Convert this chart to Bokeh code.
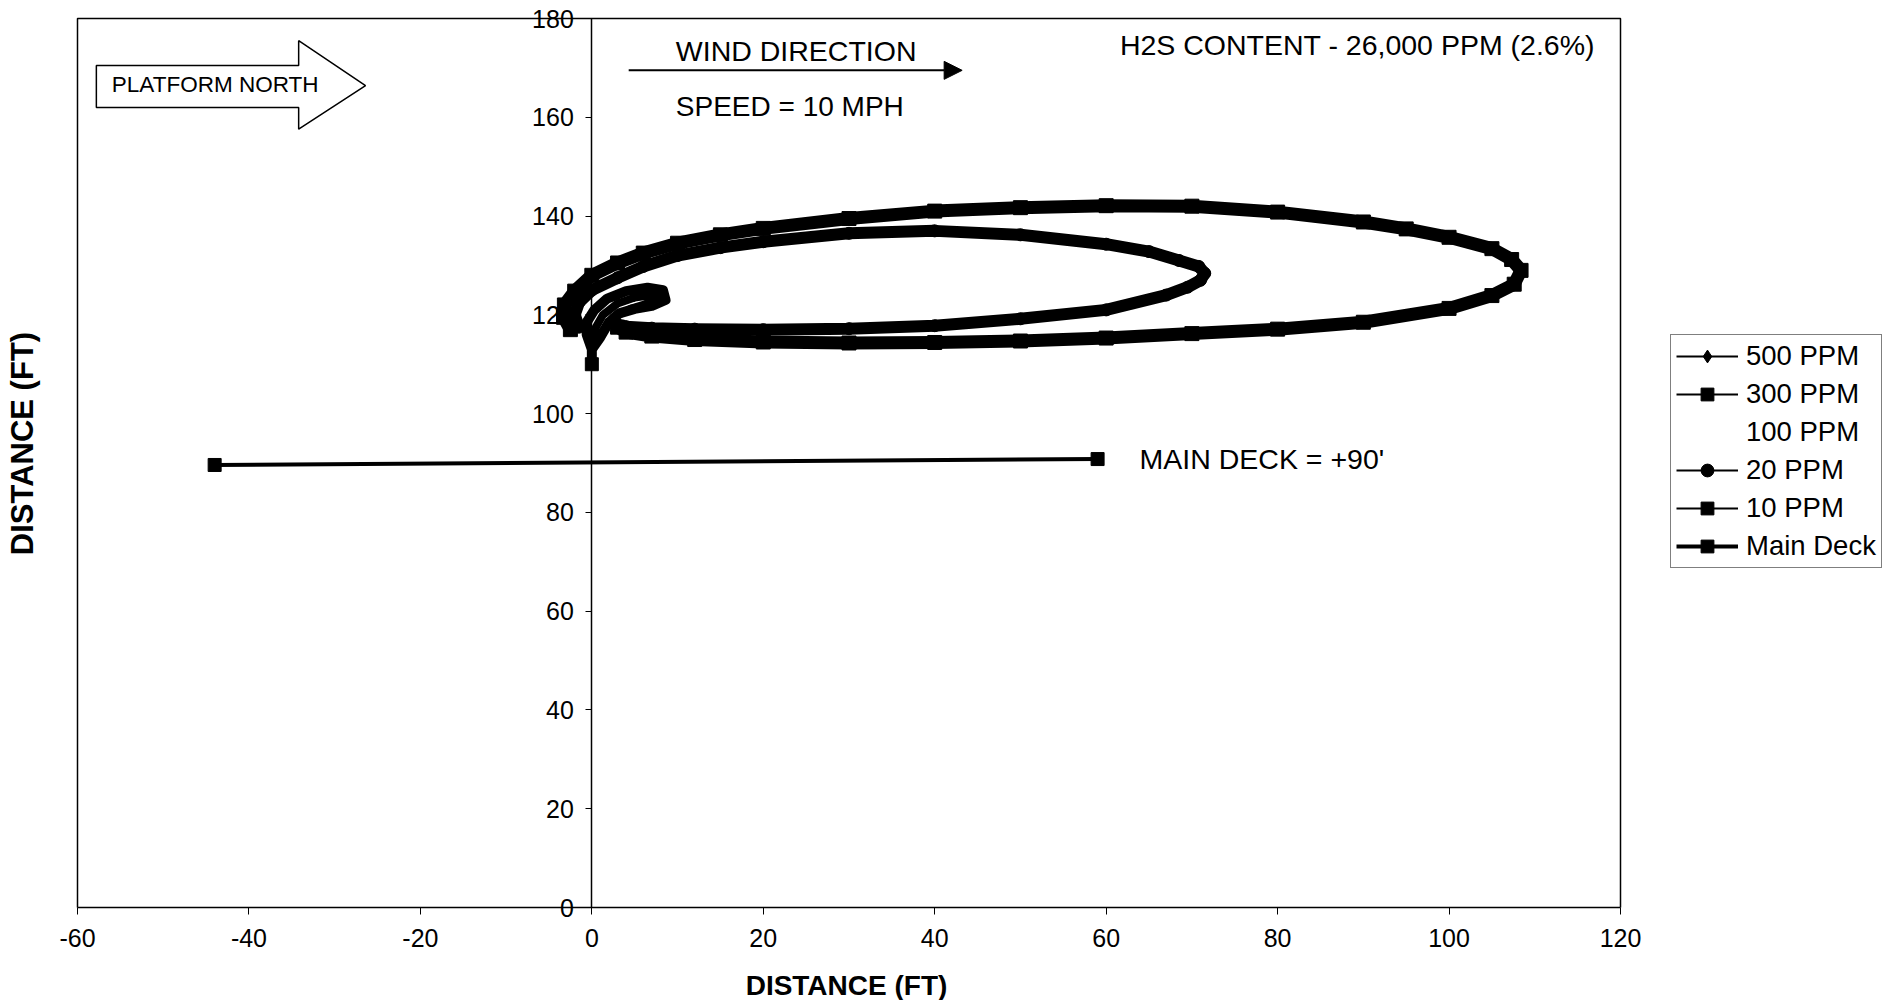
import math
from bokeh.plotting import figure
from bokeh.models import (FixedTicker, Legend, LegendItem, Label,
                          Arrow, NormalHead, Range1d)
from bokeh.embed import file_html
from bokeh.resources import INLINE

# ---------------- data ----------------
x_ticks = [-60, -40, -20, 0, 20, 40, 60, 80, 100, 120]
y_ticks = [0, 20, 40, 60, 80, 100, 120, 140, 160, 180]

# 10 PPM contour (large plume outline)
ppm10_x = [-2.5, -3.3, -3.2, -2.0, 0, 3, 6, 10, 15, 20, 30, 40, 50, 60, 70, 80, 90, 95,
           100, 105, 107.3, 108.4, 107.6, 105, 100, 90, 80, 70, 60, 50, 40, 30, 20, 12, 7, 4, 3]
ppm10_y = [117.0, 119.5, 122.0, 124.8, 128.0, 130.5, 132.5, 134.5, 136.2, 137.5, 139.5, 141.0,
           141.7, 142.1, 142.0, 140.8, 138.8, 137.4, 135.7, 133.4, 131.2, 129.0, 126.2, 123.9,
           121.3, 118.5, 117.1, 116.2, 115.3, 114.7, 114.4, 114.3, 114.5, 115.0, 115.7, 116.5, 117.5]

# 20 PPM contour
ppm20_x = [-1.5, -2.0, -1.5, 0, 3, 6, 10, 15, 20, 30, 40, 50, 60, 65, 68.5, 70.8, 71.5, 71.0,
           69.5, 67, 60, 50, 40, 30, 20, 12, 7, 4, 3]
ppm20_y = [117.5, 120.0, 122.5, 125.0, 127.5, 129.8, 132.0, 133.6, 134.8, 136.5, 137.0, 136.2,
           134.3, 132.8, 131.0, 129.8, 128.4, 127.0, 125.6, 124.0, 121.0, 119.2, 117.8, 117.2,
           117.0, 117.1, 117.3, 117.6, 118.0]

# 300 PPM contour (small tear-drop near the source)
ppm300_x = [0, 0, -0.6, -0.6, 0.3, 1.8, 4.0, 6.5, 8.3, 8.6, 7.0, 5.0, 3.2, 2.0, 1.0, 0]
ppm300_y = [110.0, 113.0, 116.0, 118.5, 121.0, 123.3, 124.8, 125.5, 125.0, 123.0, 121.8,
            121.2, 120.3, 118.5, 115.5, 113.0]

# 500 PPM contour
ppm500_x = [0, 0.3, 1.3, 3.0, 5.0, 7.0, 8.0, 6.5, 4.5, 2.5, 1.2, 0]
ppm500_y = [113.0, 117.0, 120.0, 122.3, 123.5, 124.0, 123.3, 122.3, 121.2, 119.5, 116.5, 113.0]

# Main deck line
deck_x = [-44, 59]
deck_y = [89.6, 90.8]

legend_labels = ["500 PPM", "300 PPM", "100 PPM", "20 PPM", "10 PPM", "Main Deck"]

FONT = "Liberation Sans"

# ---------------- layout (pixels) ----------------
W, H = 1885, 1000
BOX_L, BOX_R, BOX_T, BOX_B = 77, 1620, 18, 907          # plot box in canvas pixels
x_lo, x_hi = x_ticks[0], x_ticks[-1]
y_lo, y_hi = y_ticks[0], y_ticks[-1]
sx = (BOX_R - BOX_L) / (x_hi - x_lo)
sy = (BOX_B - BOX_T) / (y_hi - y_lo)
x_range = Range1d(x_lo - BOX_L / sx, x_hi + (W - BOX_R) / sx)
y_range = Range1d(y_lo - (H - BOX_B) / sy, y_hi + BOX_T / sy)


def px_x(px):
    return x_lo + (px - BOX_L) / sx


def px_y(py):
    return y_lo + (BOX_B - py) / sy


p = figure(width=W, height=H, x_range=x_range, y_range=y_range,
           output_backend="svg", toolbar_location=None, min_border=0)
p.grid.visible = False
p.outline_line_color = None
p.background_fill_color = "white"
p.border_fill_color = "white"

# x axis along y = 0
xa = p.xaxis[0]
xa.fixed_location = 0
xa.bounds = (x_lo, x_hi)
xa.ticker = FixedTicker(ticks=x_ticks)
xa.major_label_overrides = {t: str(t) for t in x_ticks}
xa.major_label_text_font = FONT
xa.major_label_text_font_size = "25px"
xa.major_label_text_color = "black"
xa.major_label_standoff = 14
xa.major_tick_in = 0
xa.major_tick_out = 7
xa.minor_tick_line_color = None
xa.axis_line_width = 1.5
xa.axis_line_color = "black"
xa.level = "underlay"

# y axis along x = 0
ya = p.yaxis[0]
ya.fixed_location = 0
ya.bounds = (y_lo, y_hi)
ya.ticker = FixedTicker(ticks=y_ticks)
ya.major_label_overrides = {t: str(t) for t in y_ticks}
ya.major_label_text_font = FONT
ya.major_label_text_font_size = "25px"
ya.major_label_text_color = "black"
ya.major_label_standoff = 12
ya.major_tick_in = 0
ya.major_tick_out = 6
ya.minor_tick_line_color = None
ya.axis_line_width = 1.5
ya.axis_line_color = "black"
ya.level = "underlay"

# plot box (left, top, right edges; bottom edge is the x axis)
p.line([x_lo, x_lo, x_hi, x_hi], [y_lo, y_hi, y_hi, y_lo], line_color="black",
       line_width=1.5, level="underlay")

# axis titles
p.add_layout(Label(x=px_x(846), y=px_y(985), text="DISTANCE (FT)", text_font=FONT,
                   text_font_style="bold", text_font_size="28px", text_align="center",
                   text_baseline="middle", text_color="black"))
p.add_layout(Label(x=px_x(22), y=px_y(443), text="DISTANCE (FT)", text_font=FONT,
                   text_font_style="bold", text_font_size="31px", text_align="center",
                   text_baseline="middle", angle=math.pi / 2, text_color="black"))

# ---------------- plume contours ----------------
p.line(ppm10_x, ppm10_y, line_color="black", line_width=13, line_join="round")
p.scatter(ppm10_x, ppm10_y, marker="square", size=14, color="black")
p.line(ppm20_x, ppm20_y, line_color="black", line_width=12, line_join="round")
p.scatter(ppm20_x, ppm20_y, marker="circle", size=12, color="black")
p.line(ppm300_x, ppm300_y, line_color="black", line_width=10, line_join="round")
p.scatter(ppm300_x[:1], ppm300_y[:1], marker="square", size=13, color="black")
p.line(ppm500_x, ppm500_y, line_color="black", line_width=8, line_join="round")
p.scatter(ppm500_x, ppm500_y, marker="diamond", size=8, color="black")
p.line(deck_x, deck_y, line_color="black", line_width=4)
p.scatter(deck_x, deck_y, marker="square", size=13, color="black")

# ---------------- annotations ----------------
blk_x = [-57.8, -34.2, -34.2, -26.4, -34.2, -34.2, -57.8]
blk_y = [170.5, 170.5, 175.5, 166.4, 157.6, 162.0, 162.0]
p.patch(blk_x, blk_y, fill_color="white", line_color="black", line_width=1.5)
p.add_layout(Label(x=-56.0, y=166.6, text="PLATFORM NORTH", text_font=FONT,
                   text_font_size="22.5px", text_baseline="middle", text_color="black"))

p.add_layout(Arrow(end=NormalHead(size=18, fill_color="black", line_color="black"),
                   x_start=4.3, y_start=169.5, x_end=43.2, y_end=169.5,
                   line_color="black", line_width=2))
p.add_layout(Label(x=9.8, y=173.4, text="WIND DIRECTION", text_font=FONT,
                   text_font_size="28.5px", text_baseline="middle", text_color="black"))
p.add_layout(Label(x=9.8, y=162.2, text="SPEED = 10 MPH", text_font=FONT,
                   text_font_size="28px", text_baseline="middle", text_color="black"))
p.add_layout(Label(x=61.6, y=174.7, text="H2S CONTENT - 26,000 PPM (2.6%)", text_font=FONT,
                   text_font_size="28.5px", text_baseline="middle", text_color="black"))
p.add_layout(Label(x=63.9, y=90.8, text="MAIN DECK = +90'", text_font=FONT,
                   text_font_size="28.5px", text_baseline="middle", text_color="black"))


# ---------------- legend ----------------
def proxy_line(xs, ys, **kw):
    r = p.line(xs, ys, line_color="black", **kw)
    r.visible = False
    return r


def proxy_marker(xs, ys, **kw):
    r = p.scatter(xs, ys, color="black", **kw)
    r.visible = False
    return r


swatches = [
    [proxy_line(ppm500_x, ppm500_y, line_width=2),
     proxy_marker(ppm500_x, ppm500_y, marker="diamond", size=16)],
    [proxy_line(ppm300_x, ppm300_y, line_width=2),
     proxy_marker(ppm300_x, ppm300_y, marker="square", size=13)],
    [proxy_line(ppm300_x, ppm300_y, line_alpha=0)],
    [proxy_line(ppm20_x, ppm20_y, line_width=2),
     proxy_marker(ppm20_x, ppm20_y, marker="circle", size=14)],
    [proxy_line(ppm10_x, ppm10_y, line_width=2),
     proxy_marker(ppm10_x, ppm10_y, marker="square", size=13)],
    [proxy_line(deck_x, deck_y, line_width=4),
     proxy_marker(deck_x, deck_y, marker="square", size=14)],
]

legend = Legend(items=[LegendItem(label=lab, renderers=rs)
                       for lab, rs in zip(legend_labels, swatches)],
                location=(1670, H - 568), margin=0, padding=5, spacing=6,
                glyph_width=62, glyph_height=32, label_height=32, label_standoff=8,
                label_text_font=FONT, label_text_font_size="27.5px",
                label_text_color="black",
                border_line_color="black", border_line_width=1.5,
                background_fill_color="white")
p.add_layout(legend)

open("out.html", "w").write(file_html(p, INLINE))
